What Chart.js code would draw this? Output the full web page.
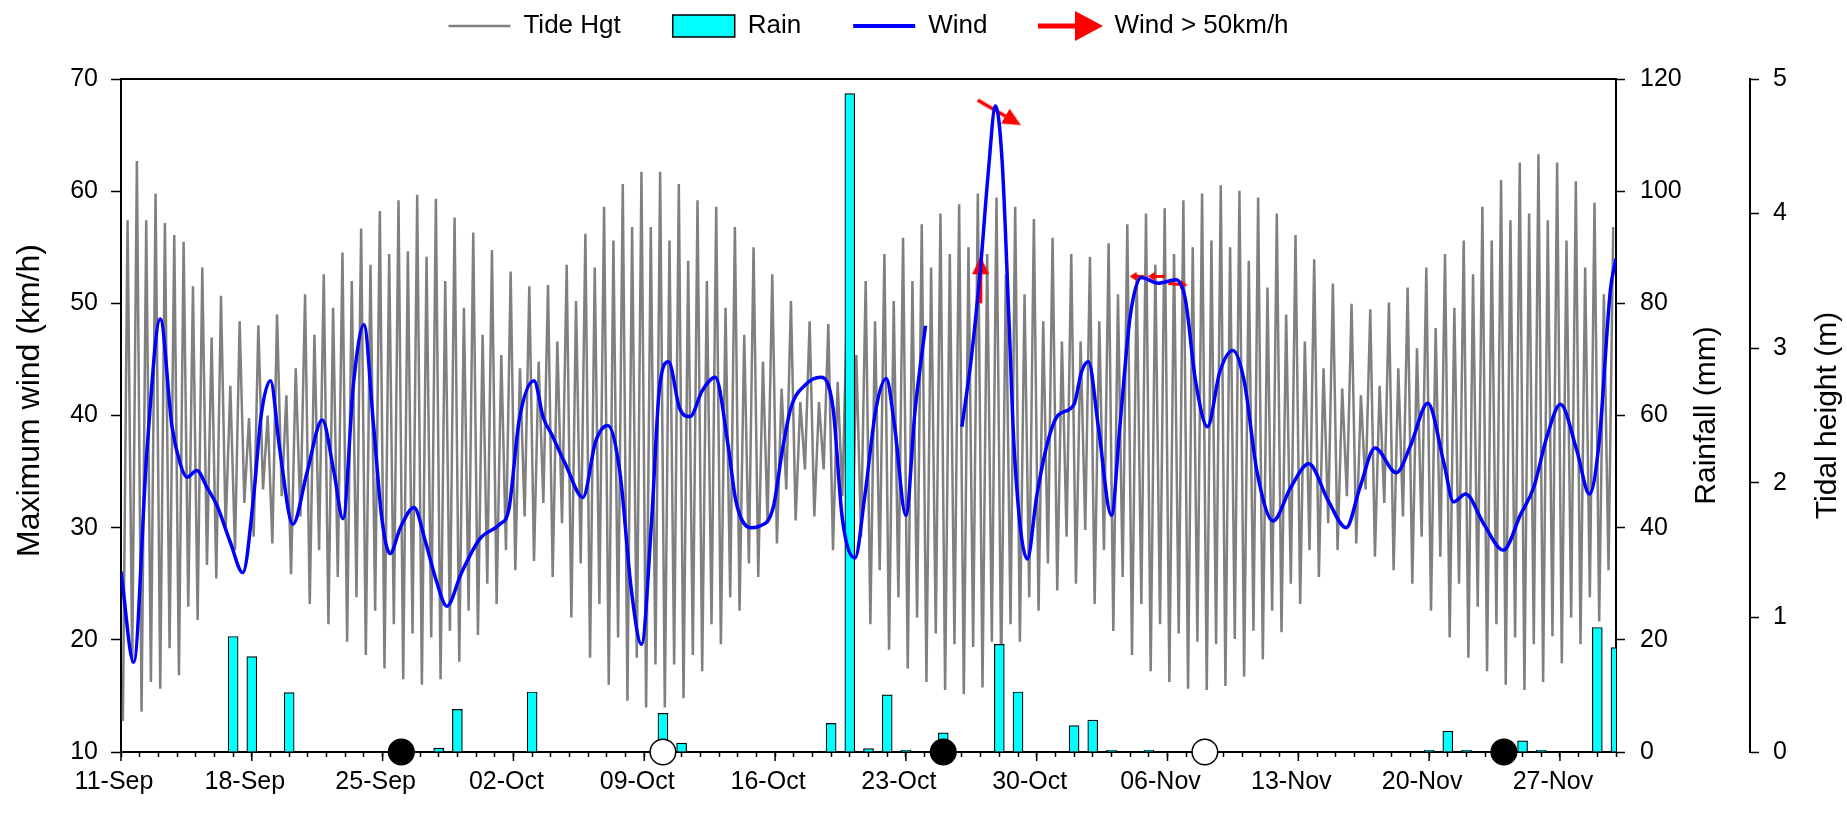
<!DOCTYPE html>
<html>
<head>
<meta charset="utf-8">
<script src="https://cdn.jsdelivr.net/npm/chart.js@4.4.1/dist/chart.umd.min.js"></script>
<style>
  html, body { margin: 0; padding: 0; background: #fff; }
</style>
</head>
<body>
<canvas id="tideChart" width="1847" height="827"></canvas>
<script>
// x values are days counted from 11-Sep (day 0) to 30-Nov (day 80)
const dateLabels = ["11-Sep", "18-Sep", "25-Sep", "02-Oct", "09-Oct", "16-Oct",
    "23-Oct", "30-Oct", "06-Nov", "13-Nov", "20-Nov", "27-Nov"];

const axisTitles = ["Maximum wind (km/h)", "Rainfall (mm)", "Tidal height (m)"];

const windDay = [0, 0.68, 1.39, 2.1, 2.73, 3.17, 3.53, 4.06, 4.6, 5.13, 5.85, 6.52,
    7.1, 7.5, 8.0, 8.5, 9.2, 9.95, 10.77, 11.4, 11.88, 12.45, 13.0, 13.5, 13.96,
    14.4, 14.95, 15.68, 16.3, 16.85, 17.44, 18.2, 19.2, 20.27, 20.75, 21.3, 22.1,
    22.6, 23.05, 23.8, 24.72, 25.4, 26.05, 26.7, 27.3, 27.85, 28.4, 28.8, 29.3,
    29.9, 30.45, 31.1, 31.8, 32.5, 32.9, 33.7, 34.1, 34.9, 35.4, 35.85, 36.6,
    37.45, 38.1, 38.6, 39.28, 39.8, 40.4, 40.95, 41.4, 42.0, 42.5, 43.05, 44.0,
    45.0, 45.5, 46.0, 46.4, 46.8, 47.15, 47.5, 47.8, 48.5, 49.0, 49.6, 50.13, 51.0,
    51.4, 51.77, 52.3, 53.0, 53.45, 54.0, 54.6, 55.5, 56.45, 56.95, 57.5, 58.14,
    58.8, 59.5, 60.1, 60.8, 61.65, 62.6, 63.56, 64.6, 65.56, 66.3, 67.1, 68.25,
    69.0, 69.93, 70.8, 71.3, 71.96, 72.9, 73.97, 74.9, 75.6, 76.3, 77.03, 77.9,
    78.58, 79.1, 79.7, 80.0];
const windKmh = [26.1, 18.0, 36.9, 48.6, 39.0, 35.7, 34.5, 35.1, 33.6, 32.0, 28.7, 26.0,
    32.8, 40.0, 43.1, 36.9, 30.3, 34.9, 39.6, 34.9, 30.8, 43.0, 48.1, 39.4, 30.8,
    27.7, 30.0, 31.8, 28.7, 25.4, 23.0, 25.9, 29.0, 30.3, 31.6, 39.5, 43.1,
    39.8, 38.3, 35.6, 32.7, 37.7, 39.1, 34.9, 24.6, 19.6, 30.8, 42.2, 44.8,
    40.6, 39.9, 42.2, 43.4, 37.2, 32.4, 30.0, 30.1, 31.8, 37.0, 40.7, 42.7,
    43.4, 40.7, 30.8, 27.3, 32.8, 40.6, 43.3, 39.0, 31.1, 40.6, 48.0, null,
    39.0, 45.1, 53.3, 61.5, 67.6, 62.7, 49.2, 36.9, 27.2, 32.8, 37.7, 40.0, 41.0,
    43.9, 44.8, 39.0, 31.1, 39.0, 48.8, 52.3, 51.8, 52.1, 50.4, 43.1, 39.0,
    43.9, 45.8, 43.1, 34.9, 30.6, 33.6, 35.7, 32.4, 30.0, 33.6, 37.1, 34.9,
    37.3, 41.1, 35.7, 32.3, 33.0, 30.4, 28.0, 31.2, 33.6, 38.1, 41.0, 36.9,
    33.0, 37.7, 51.2, 54.0];

const rainDay = [6, 7, 9, 17, 18, 22, 29, 30, 38, 39, 40, 41, 42, 44, 47, 48,
    51, 52, 53, 55, 70, 71, 72, 75, 76, 79, 80];
const rainMm = [20.6, 17.0, 10.6, 0.7, 7.6, 10.7, 6.9, 1.6, 5.1, 117.4, 0.6, 10.2,
    0.3, 3.4, 19.2, 10.7, 4.7, 5.7, 0.3, 0.3, 0.3, 3.7, 0.3, 2.0, 0.3, 22.2, 18.6];

// tide: two lows and two highs each day (days 0..79)
const tideLow1 = [0.23, 0.30, 0.47, 0.57, 0.98, 1.29, 1.50, 1.60, 1.55, 1.32,
    1.10, 0.95, 0.82, 0.72, 0.62, 0.54, 0.50, 0.54, 0.67, 0.87,
    1.10, 1.35, 1.42, 1.30, 1.00, 0.70, 0.50, 0.38, 0.33, 0.33,
    0.40, 0.60, 0.80, 1.05, 1.30, 1.55, 1.72, 1.75, 1.50, 1.20,
    0.95, 0.76, 0.62, 0.52, 0.46, 0.43, 0.48, 0.60, 0.82, 1.05,
    1.20, 1.25, 1.10, 0.90, 0.72, 0.60, 0.52, 0.47, 0.46, 0.49,
    0.56, 0.69, 0.89, 1.10, 1.30, 1.50, 1.55, 1.45, 1.35, 1.25,
    1.05, 0.85, 0.70, 0.60, 0.50, 0.46, 0.52, 0.66, 0.80, 0.97];
const tideHigh1 = [3.95, 3.95, 3.93, 3.79, 3.60, 3.39, 3.20, 3.17, 3.25, 2.85,
    3.10, 3.30, 3.50, 3.62, 3.70, 3.72, 3.68, 3.50, 3.30, 3.10,
    2.95, 2.85, 2.90, 3.05, 3.35, 3.60, 3.80, 3.90, 3.90, 3.80,
    3.65, 3.50, 3.30, 3.10, 2.90, 2.70, 2.60, 2.60, 2.75, 2.95,
    3.20, 3.35, 3.50, 3.60, 3.70, 3.75, 3.70, 3.55, 3.40, 3.20,
    3.05, 3.05, 3.20, 3.40, 3.55, 3.62, 3.70, 3.75, 3.80, 3.75,
    3.65, 3.45, 3.25, 3.05, 2.85, 2.70, 2.65, 2.72, 2.85, 3.00,
    3.15, 3.30, 3.55, 3.80, 3.95, 4.00, 3.95, 3.80, 3.60, 3.40];
const tideLow2 = [0.66, 0.52, 0.77, 1.08, 1.39, 1.66, 1.85, 1.95, 1.90, 1.75,
    1.50, 1.30, 1.15, 1.05, 0.95, 0.88, 0.85, 0.90, 1.05, 1.25,
    1.50, 1.75, 1.85, 1.70, 1.40, 1.10, 0.85, 0.70, 0.65, 0.65,
    0.72, 0.95, 1.15, 1.40, 1.70, 1.95, 2.10, 2.10, 1.90, 1.60,
    1.35, 1.15, 1.00, 0.88, 0.80, 0.78, 0.82, 0.95, 1.15, 1.40,
    1.60, 1.65, 1.50, 1.30, 1.10, 0.95, 0.88, 0.82, 0.80, 0.84,
    0.90, 1.05, 1.25, 1.50, 1.70, 1.90, 1.95, 1.85, 1.75, 1.60,
    1.45, 1.25, 1.08, 0.95, 0.85, 0.80, 0.86, 1.00, 1.15, 1.35];
const tideHigh2 = [4.39, 4.15, 3.84, 3.46, 3.08, 2.72, 2.48, 2.50, 2.65, 3.40,
    3.55, 3.71, 3.89, 4.02, 4.10, 4.14, 4.11, 3.97, 3.86, 3.73,
    3.57, 3.46, 3.47, 3.62, 3.85, 4.05, 4.22, 4.31, 4.31, 4.22,
    4.10, 4.05, 3.90, 3.75, 3.55, 3.35, 3.20, 3.18, 3.30, 3.50,
    3.70, 3.82, 3.92, 4.00, 4.07, 4.15, 4.12, 4.05, 3.96, 3.82,
    3.70, 3.68, 3.78, 3.92, 4.00, 4.04, 4.10, 4.15, 4.21, 4.17,
    4.12, 4.00, 3.84, 3.66, 3.48, 3.33, 3.29, 3.34, 3.45, 3.60,
    3.70, 3.80, 4.05, 4.25, 4.38, 4.44, 4.38, 4.24, 4.08, 3.90];

// wind vectors shown where wind > 50 km/h (direction in degrees, 0 = pointing right)
const arrowDay = [46.0, 47.0, 54.35, 55.4, 56.55];
const arrowKmh = [52.1, 67.0, 52.4, 52.4, 51.7];
const arrowDir = [-90, 30, 180, 180, 5];
const arrowLen = [47, 50, 14, 17, 19];

// moon phases on the date axis
const moonDay = [15, 29, 44, 58, 74];
const moonPhase = ["new", "full", "new", "full", "new"];

const FONT = "'Liberation Sans', Arial, sans-serif";
Chart.defaults.font.family = FONT;
Chart.defaults.color = "#000";

function makeArrow(len, shaft, headLen, headWidth) {
    const c = document.createElement("canvas");
    c.width = Math.ceil(len) + 4;
    c.height = Math.ceil(headWidth) + 4;
    const g = c.getContext("2d");
    const cy = c.height / 2;
    const x0 = 2;
    const x1 = 2 + len;
    g.fillStyle = "#ff0000";
    g.strokeStyle = "#ff0000";
    g.lineWidth = shaft;
    g.beginPath();
    g.moveTo(x0, cy);
    g.lineTo(x1 - headLen + 1, cy);
    g.stroke();
    g.beginPath();
    g.moveTo(x1, cy);
    g.lineTo(x1 - headLen, cy - headWidth / 2);
    g.lineTo(x1 - headLen, cy + headWidth / 2);
    g.closePath();
    g.fill();
    return c;
}

const arrowImages = arrowLen.map((len) =>
    len > 30 ? makeArrow(len, 3.5, 18, 17) : makeArrow(len, 3, 7, 9));
const legendArrow = makeArrow(65, 5, 28, 30);

const tidePoints = [];
tideLow1.forEach((v, d) => {
    tidePoints.push({ x: d + 0.1, y: tideLow1[d] });
    tidePoints.push({ x: d + 0.35, y: tideHigh1[d] });
    tidePoints.push({ x: d + 0.6, y: tideLow2[d] });
    tidePoints.push({ x: d + 0.85, y: tideHigh2[d] });
});

const extrasPlugin = {
    id: "extras",
    beforeDatasetsDraw(chart) {
        // longer ticks at the labelled dates
        const { ctx, scales } = chart;
        const x = scales.x;
        ctx.save();
        ctx.strokeStyle = "#000";
        ctx.lineWidth = 1.5;
        dateLabels.forEach((lbl, i) => {
            const px = x.getPixelForValue(i * 7);
            ctx.beginPath();
            ctx.moveTo(px, x.top);
            ctx.lineTo(px, x.top + 9);
            ctx.stroke();
        });
        ctx.restore();
    },
    afterDraw(chart) {
        const { ctx, chartArea, scales } = chart;
        const midY = (chartArea.top + chartArea.bottom) / 2;
        const spots = [
            [scales.y.left + 30, midY - 15, 32],
            [scales.yRain.right - 43, midY, 30],
            [scales.yTide.left + 78, midY, 30],
        ];
        ctx.save();
        ctx.fillStyle = "#000";
        ctx.textAlign = "center";
        ctx.textBaseline = "middle";
        axisTitles.forEach((t, i) => {
            ctx.save();
            ctx.font = spots[i][2] + "px " + FONT;
            ctx.translate(spots[i][0], spots[i][1]);
            ctx.rotate(-Math.PI / 2);
            ctx.fillText(t, 0, 0);
            ctx.restore();
        });
        ctx.restore();
    },
};

function legendLabels(chart) {
    return chart.data.datasets
        .map((ds, i) => ({ ds, i }))
        .filter(({ ds }) => ds.legendSymbol)
        .map(({ ds, i }) => ({
            text: ds.label,
            datasetIndex: i,
            pointStyle: ds.legendSymbol,
            fillStyle: ds.legendFill,
            strokeStyle: ds.legendStroke,
            lineWidth: ds.legendWidth,
            fontColor: "#000",
            hidden: false,
        }));
}

new Chart(document.getElementById("tideChart"), {
    type: "line",
    data: {
        datasets: [
            {
                label: "Tide Hgt",
                data: tidePoints,
                xAxisID: "x",
                yAxisID: "yTide",
                borderColor: "#808080",
                borderWidth: 2.5,
                pointRadius: 0,
                tension: 0,
                order: 4,
                legendSymbol: "line",
                legendFill: "#808080",
                legendStroke: "#808080",
                legendWidth: 2.5,
            },
            {
                type: "bar",
                label: "Rain",
                data: rainDay.map((d, i) => ({ x: d, y: rainMm[i] })),
                xAxisID: "x",
                yAxisID: "yRain",
                backgroundColor: "#00ffff",
                borderColor: "#000",
                borderWidth: 1.2,
                borderSkipped: "bottom",
                barThickness: 10,
                order: 3,
                legendSymbol: "rect",
                legendFill: "#00ffff",
                legendStroke: "#000",
                legendWidth: 1.5,
            },
            {
                label: "Wind",
                data: windDay.map((d, i) => ({ x: d, y: windKmh[i] })),
                xAxisID: "x",
                yAxisID: "y",
                borderColor: "#0000ff",
                borderWidth: 3.5,
                pointRadius: 0,
                spanGaps: false,
                cubicInterpolationMode: "monotone",
                order: 1,
                legendSymbol: "line",
                legendFill: "#0000ff",
                legendStroke: "#0000ff",
                legendWidth: 4,
            },
            {
                label: "Wind > 50km/h",
                data: arrowDay.map((d, i) => ({ x: d, y: arrowKmh[i] })),
                xAxisID: "x",
                yAxisID: "y",
                showLine: false,
                clip: false,
                pointRadius: 10,
                pointStyle: (c) => arrowImages[c.dataIndex],
                pointRotation: (c) => arrowDir[c.dataIndex],
                order: 2,
                legendSymbol: legendArrow,
                legendFill: "#ff0000",
                legendStroke: "#ff0000",
                legendWidth: 1,
            },
            {
                label: "Moon",
                data: moonDay.map((d) => ({ x: d, y: 10 })),
                xAxisID: "x",
                yAxisID: "y",
                showLine: false,
                clip: false,
                pointRadius: 12.8,
                pointBorderWidth: 1.5,
                pointBorderColor: "#000",
                pointBackgroundColor: (c) => moonPhase[c.dataIndex] === "new" ? "#000" : "#fff",
                order: 0,
            },
        ],
    },
    options: {
        responsive: false,
        animation: false,
        events: [],
        layout: { padding: { top: -39, left: 0, right: 0, bottom: 0 } },
        plugins: {
            tooltip: { enabled: false },
            legend: {
                position: "top",
                fullSize: false,
                onClick: null,
                labels: {
                    usePointStyle: true,
                    pointStyleWidth: 62,
                    boxHeight: 22,
                    padding: 52,
                    font: { size: 26 },
                    color: "#000",
                    generateLabels: legendLabels,
                },
            },
        },
        scales: {
            x: {
                type: "linear",
                position: "bottom",
                min: 0,
                max: 80,
                offset: false,
                afterFit: (s) => { s.height = 75; },
                grid: { drawOnChartArea: false, offset: false, tickLength: 5, tickColor: "#000", tickWidth: 1.5 },
                border: { color: "#000", width: 2 },
                ticks: {
                    stepSize: 1,
                    autoSkip: false,
                    maxRotation: 0,
                    minRotation: 0,
                    padding: 10,
                    labelOffset: -7,
                    font: { size: 25 },
                    callback: (v) => (v % 7 === 0 ? dateLabels[v / 7] : ""),
                },
            },
            xTop: {
                type: "linear",
                position: "top",
                min: 0,
                max: 80,
                afterFit: (s) => { s.height = 30; },
                grid: { display: false },
                border: { display: true, color: "#000", width: 2 },
                ticks: { display: false },
            },
            y: {
                type: "linear",
                position: "left",
                min: 10,
                max: 70,
                afterFit: (s) => { s.width = 121; },
                grid: { drawOnChartArea: false, tickLength: 10, tickColor: "#000", tickWidth: 1.5 },
                border: { color: "#000", width: 2 },
                ticks: { stepSize: 10, padding: 13, font: { size: 25 } },
            },
            yRain: {
                type: "linear",
                position: "right",
                weight: 1,
                min: 0,
                max: 120,
                afterFit: (s) => { s.width = 134; },
                grid: { drawOnChartArea: false, tickLength: 9, tickColor: "#000", tickWidth: 1.5 },
                border: { color: "#000", width: 2 },
                ticks: { stepSize: 20, padding: 15, font: { size: 25 } },
            },
            yTide: {
                type: "linear",
                position: "right",
                weight: 2,
                min: 0,
                max: 5,
                afterFit: (s) => { s.width = 97; },
                grid: { drawOnChartArea: false, tickLength: 9, tickColor: "#000", tickWidth: 1.5 },
                border: { color: "#000", width: 2 },
                ticks: { stepSize: 1, padding: 14, font: { size: 25 } },
            },
        },
    },
    plugins: [extrasPlugin],
});
</script>
</body>
</html>
